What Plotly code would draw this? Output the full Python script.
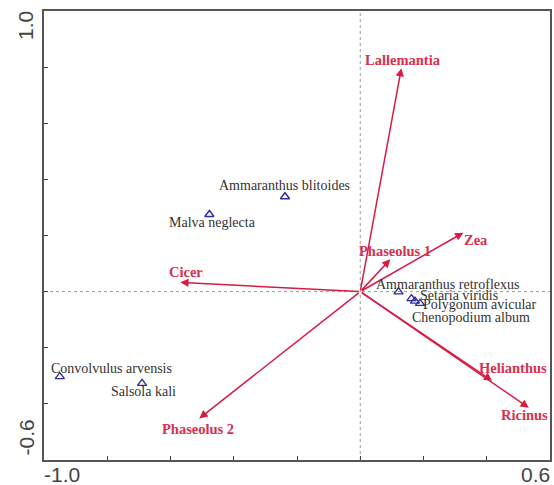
import plotly.graph_objects as go

# Crop vectors (biplot arrows): end coordinates on axis 1 / axis 2
crops = ["Lallemantia", "Zea", "Phaseolus 1", "Cicer", "Phaseolus 2", "Helianthus", "Ricinus"]
crop_x = [0.130, 0.326, 0.095, -0.569, -0.509, 0.417, 0.533]
crop_y = [0.796, 0.210, 0.115, 0.033, -0.452, -0.318, -0.414]

# Weed species scores
species = ["Ammaranthus blitoides", "Malva neglecta", "Ammaranthus retroflexus",
           "Setaria viridis", "Polygonum avicular", "Chenopodium album",
           "Convolvulus arvensis", "Salsola kali"]
sp_x = [-0.238, -0.477, 0.121, 0.162, 0.173, 0.189, -0.950, -0.690]
sp_y = [0.338, 0.275, -0.001, -0.025, -0.034, -0.042, -0.303, -0.327]

# Axis ranges and tick marks
x_range = [-1.0, 0.6]
y_range = [-0.6, 1.0]
x_ticks = [-1.0, -0.8, -0.6, -0.4, -0.2, 0.0, 0.2, 0.4, 0.6]
y_ticks = [-0.6, -0.4, -0.2, 0.0, 0.2, 0.4, 0.6, 0.8, 1.0]

ARROW = "#d81b45"
CROP_TXT = "#d8304f"
SP_COL = "#2e2e9a"
SP_TXT = "#333333"
SERIF = "Liberation Serif, Times New Roman, serif"
SANS = "Liberation Sans, Arial, sans-serif"

# label placement (pixel shifts, anchor) for crop vectors
crop_lbl = {
    "Lallemantia": (2, 8, "center"),
    "Zea": (13, -7, "center"),
    "Phaseolus 1": (5, 8, "center"),
    "Cicer": (6, 10, "center"),
    "Phaseolus 2": (-1, -11, "center"),
    "Helianthus": (21, 13, "center"),
    "Ricinus": (-4, -7, "center"),
}
# label placement for species
sp_lbl = {
    "Ammaranthus blitoides": (0, 11, "center"),
    "Malva neglecta": (3, -8, "center"),
    "Ammaranthus retroflexus": (-25, 7, "left"),
    "Setaria viridis": (7, 3, "left"),
    "Polygonum avicular": (6, -3, "left"),
    "Chenopodium album": (-10, -14, "left"),
    "Convolvulus arvensis": (-11, 8, "left"),
    "Salsola kali": (1, -8, "center"),
}

fig = go.Figure()

fig.add_trace(go.Scatter(
    x=sp_x, y=sp_y, mode="markers",
    marker=dict(symbol="triangle-up-open", size=8, color=SP_COL, line=dict(width=1.4, color=SP_COL)),
    hoverinfo="text", text=species, showlegend=False,
))

annotations = []
for name, cx, cy in zip(crops, crop_x, crop_y):
    annotations.append(dict(
        x=cx, y=cy, xref="x", yref="y", ax=0, ay=0, axref="x", ayref="y",
        showarrow=True, arrowhead=2, arrowsize=1.1, arrowwidth=1.5,
        arrowcolor=ARROW, text="",
    ))
    dx, dy, anc = crop_lbl[name]
    annotations.append(dict(
        x=cx, y=cy, xref="x", yref="y", showarrow=False,
        text="<b>%s</b>" % name, xanchor=anc, yanchor="middle",
        xshift=dx, yshift=dy,
        font=dict(family=SERIF, size=14.5, color=CROP_TXT),
    ))

for name, sx, sy in zip(species, sp_x, sp_y):
    dx, dy, anc = sp_lbl[name]
    annotations.append(dict(
        x=sx, y=sy, xref="x", yref="y", showarrow=False,
        text=name, xanchor=anc, yanchor="middle",
        xshift=dx, yshift=dy,
        font=dict(family=SERIF, size=14, color=SP_TXT),
    ))

# end-of-axis labels
tick_font = dict(family=SANS, size=21, color="#444444")
annotations += [
    dict(x=0, y=0, xref="paper", yref="paper", text="-1.0", showarrow=False,
         xanchor="left", yanchor="top", xshift=-2, yshift=-1, font=tick_font),
    dict(x=1, y=0, xref="paper", yref="paper", text="0.6", showarrow=False,
         xanchor="right", yanchor="top", xshift=2, yshift=-1, font=tick_font),
    dict(x=0, y=1, xref="paper", yref="paper", text="1.0", showarrow=False,
         textangle=-90, xanchor="right", yanchor="top", xshift=-5, yshift=2, font=tick_font),
    dict(x=0, y=0, xref="paper", yref="paper", text="-0.6", showarrow=False,
         textangle=-90, xanchor="right", yanchor="bottom", xshift=-5, yshift=2, font=tick_font),
]

shapes = [
    dict(type="line", xref="x", yref="paper", x0=0, x1=0, y0=0, y1=1,
         line=dict(color="#9a9a9a", width=1, dash="dot"), layer="below"),
    dict(type="line", xref="paper", yref="y", x0=0, x1=1, y0=0, y1=0,
         line=dict(color="#9a9a9a", width=1, dash="dot"), layer="below"),
]

axis_common = dict(
    showgrid=False, zeroline=False, showline=True, linecolor="#555555", linewidth=1.5,
    mirror=True, ticks="inside", ticklen=4, tickcolor="#444444", tickwidth=1,
    showticklabels=False, fixedrange=True,
)

fig.update_layout(
    width=554, height=485,
    margin=dict(l=44, r=2, t=11, b=25),
    paper_bgcolor="white", plot_bgcolor="white",
    xaxis=dict(range=x_range, tickvals=x_ticks, **axis_common),
    yaxis=dict(range=y_range, tickvals=y_ticks, **axis_common),
    annotations=annotations, shapes=shapes,
    showlegend=False,
)

fig.write_html("out.html")
